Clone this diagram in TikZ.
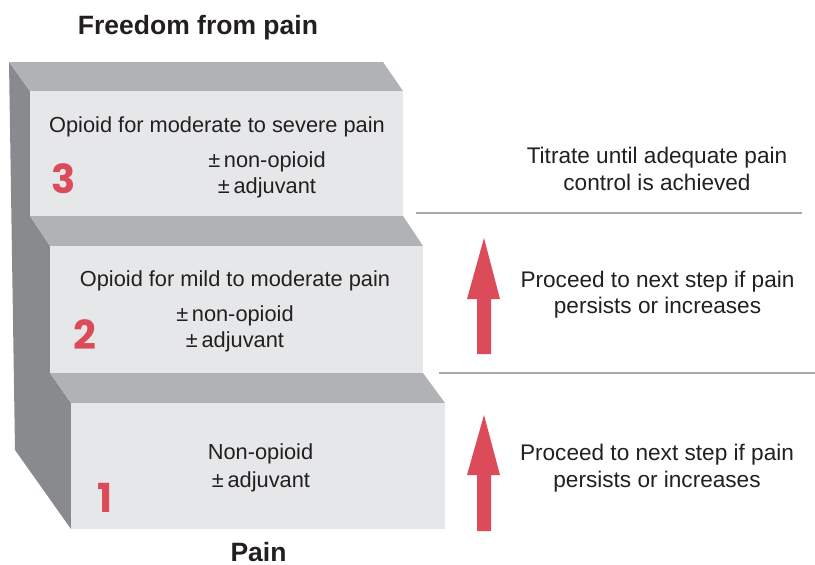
\documentclass[tikz,border=0pt]{standalone}
\usepackage{fontspec}
\setmainfont{Liberation Sans}
\newfontfamily\numfont{Poppins}
\definecolor{frontgray}{HTML}{E6E7E8}
\definecolor{topgray}{HTML}{B1B2B5}
\definecolor{sidegray}{HTML}{898A8D}
\definecolor{stepred}{HTML}{DB4B5A}
\definecolor{rulegray}{HTML}{A7A9AC}
\definecolor{textdark}{HTML}{231F20}
\begin{document}
\begin{tikzpicture}[x=1pt,y=-1pt,
  frontface/.style={fill=frontgray},
  topface/.style={fill=topgray},
  sideface/.style={fill=sidegray},
  steptext/.style={anchor=base,inner sep=0pt,text=textdark,font=\fontsize{21.8}{27}\selectfont},
  sidetext/.style={anchor=base,inner sep=0pt,text=textdark,font=\fontsize{22.6}{27}\selectfont},
  stepnum/.style={anchor=base,inner sep=0pt,text=stepred,font=\numfont\bfseries\fontsize{40}{44}\selectfont},
  headline/.style={anchor=base,inner sep=0pt,text=textdark,font=\bfseries\fontsize{26.5}{30}\selectfont},
  divider/.style={draw=rulegray,line width=2.4pt},
  uparrow/.style={fill=stepred}]
\useasboundingbox (0,0) rectangle (815,565);
% side face of the staircase
\fill[sideface] (9,62) -- (30,91) -- (30,216) -- (50,246) -- (50,373) -- (71,403) -- (71,529) -- (15,450) -- cycle;
% top faces
\fill[topface] (9,62) -- (383,62) -- (403,91) -- (30,91) -- cycle;
\fill[topface] (30,216) -- (403,216) -- (423,246) -- (50,246) -- cycle;
\fill[topface] (50,373) -- (423,373) -- (445,403) -- (71,403) -- cycle;
% front faces
\fill[frontface] (30,91) rectangle (403,216);
\fill[frontface] (50,246) rectangle (423,373);
\fill[frontface] (71,403) rectangle (445,529);
% headings
\node[headline] (top) at (198,34) {Freedom from pain};
\node[headline] (bottom) at (258.5,561) {Pain};
% step 3
\node[steptext] (s3a) at (217,132) {Opioid for moderate to severe pain};
\node[steptext] (s3b) at (267,167) {\char"00B1\,non-opioid};
\node[steptext] (s3c) at (267,193) {\char"00B1\,adjuvant};
\node[stepnum] (n3) at (63.5,193) {3};
% step 2
\node[steptext] (s2a) at (235,286) {Opioid for mild to moderate pain};
\node[steptext] (s2b) at (235,321) {\char"00B1\,non-opioid};
\node[steptext] (s2c) at (235,347) {\char"00B1\,adjuvant};
\node[stepnum] (n2) at (84.5,349) {2};
% step 1
\node[steptext] (s1a) at (260.5,459) {Non-opioid};
\node[steptext] (s1b) at (261,487) {\char"00B1\,adjuvant};
\node[stepnum] (n1) at (105,512) {1};
% dividers
\coordinate (d1a) at (416,213); \coordinate (d1b) at (802,213);
\coordinate (d2a) at (439,373); \coordinate (d2b) at (815,373);
\draw[divider] (d1a) -- (d1b);
\draw[divider] (d2a) -- (d2b);
% arrows
\fill[uparrow] (477,354) -- (477,299) -- (467,299) -- (484,238) -- (500,299) -- (491,299) -- (491,354) -- cycle;
\fill[uparrow] (477,531) -- (477,475) -- (467,475) -- (484,415) -- (500,475) -- (491,475) -- (491,531) -- cycle;
% right-hand texts
\node[sidetext] (t1) at (657,163) {Titrate until adequate pain};
\node[sidetext] (t2) at (657,190) {control is achieved};
\node[sidetext] (p1) at (657.5,287) {Proceed to next step if pain};
\node[sidetext] (p2) at (657.5,313) {persists or increases};
\node[sidetext] (q1) at (657,460) {Proceed to next step if pain};
\node[sidetext] (q2) at (657,487) {persists or increases};
\end{tikzpicture}
\end{document}
